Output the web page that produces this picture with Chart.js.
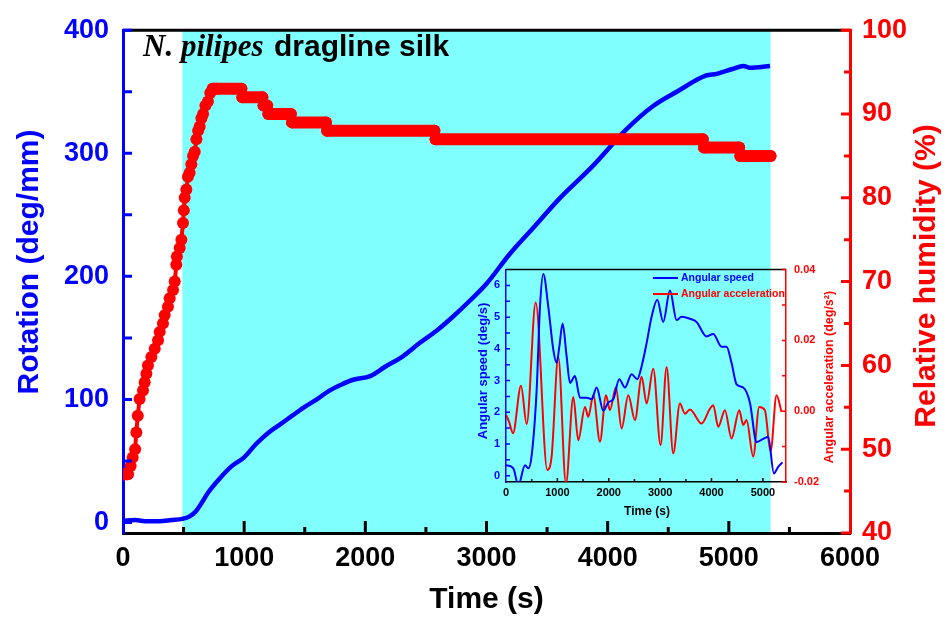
<!DOCTYPE html>
<html>
<head>
<meta charset="utf-8">
<script src="https://cdn.jsdelivr.net/npm/chart.js@4.4.1/dist/chart.umd.min.js"></script>
<style>
  html, body { margin: 0; padding: 0; background: #fff; }
  #wrap { position: relative; width: 946px; height: 619px; }
  #main { position: absolute; left: 0; top: 0; }
  #inset { position: absolute; left: 466px; top: 255px; }
</style>
</head>
<body>
<div id="wrap">
  <canvas id="main" width="946" height="619"></canvas>
  <canvas id="inset" width="400" height="275"></canvas>
</div>
<script>
// ---- main plot: rotation (left axis) and relative humidity (right axis) vs time
const rotTime = [0, 100, 200, 300, 400, 490, 550, 600, 650, 700, 800, 900, 1000, 1100, 1200, 1300, 1400, 1500, 1600, 1700, 1800, 1900, 2040, 2170, 2310, 2450, 2590, 2720, 2860, 3000, 3190, 3400, 3600, 3880, 4150, 4370, 4570, 4810, 4900, 5030, 5120, 5170, 5340];
const rotValue = [1.5, 2, 1, 1, 2, 3, 5, 9, 16, 24, 36, 46, 53, 64, 73, 80, 87, 94, 100, 107, 112, 116, 119, 127, 135, 146, 156, 167, 180, 194, 218, 241, 263, 290, 319, 338, 350, 363, 364.5, 368.5, 371, 369.5, 371];

const rhTime = [0, 14, 40, 63, 80, 100, 110, 122, 137, 165, 179, 193, 206, 234, 262, 289, 303, 330, 344, 371, 385, 413, 427, 440, 445, 468, 482, 495, 502, 509, 523, 536, 550, 564, 578, 592, 606, 620, 633, 647, 661, 680, 701, 720, 740, 771, 977, 985, 1150, 1160, 1190, 1200, 1385, 1395, 1675, 1685, 2570, 2580, 4785, 4795, 5085, 5095, 5344];
const rhValue = [47, 47, 47, 48, 49, 50, 52, 54, 56, 57, 58, 59, 60, 61, 62, 63, 64, 65, 66, 67, 68, 69, 70, 72, 73, 74, 75, 77, 78.5, 80, 81, 82.5, 83, 84, 85, 85.5, 87, 88, 88.5, 89.5, 90, 91, 91.5, 92.5, 93, 93, 93, 92, 92, 91, 91, 90, 90, 89, 89, 88, 88, 87, 87, 86, 86, 85, 85];

const bandStart = 490, bandEnd = 5345;   // cyan shaded interval (s)

const timeTicks = [0, 1000, 2000, 3000, 4000, 5000, 6000];
const timeMinor = [500, 1500, 2500, 3500, 4500, 5500];
const rotTicks = [0, 100, 200, 300, 400];
const rotMinor = [50, 150, 250, 350];
const rhTicks = [40, 50, 60, 70, 80, 90, 100];
const rhMinor = [45, 55, 65, 75, 85, 95];

// ---- inset: angular speed (left) and angular acceleration (right) vs time
const spdTime = [0, 143, 240, 370, 434, 500, 597, 661, 726, 824, 921, 986, 1038, 1102, 1180, 1245, 1342, 1440, 1569, 1667, 1764, 1894, 1991, 2088, 2205, 2315, 2445, 2555, 2640, 2737, 2834, 2944, 3061, 3191, 3320, 3418, 3580, 3709, 3904, 4034, 4196, 4293, 4390, 4488, 4617, 4747, 4877, 5006, 5104, 5214, 5298, 5383];
const spdValue = [0.33, 0.23, -0.3, 0.33, 0.23, 0.64, 2.72, 5.32, 6.36, 5.32, 3.97, 3.56, 4.07, 4.8, 3.76, 2.93, 3.14, 2.46, 2.46, 2.41, 2.78, 2.05, 2.31, 2.41, 3.04, 2.78, 3.2, 3.04, 3.45, 4.18, 5.01, 5.55, 4.85, 5.84, 4.91, 5.01, 4.95, 4.85, 4.39, 4.47, 4.07, 4.07, 3.56, 2.88, 2.78, 2.31, 1.06, 1.16, 1.22, 0.07, 0.28, 0.42];

const accTime = [0, 60, 136, 292, 402, 578, 804, 888, 1018, 1167, 1310, 1407, 1537, 1602, 1699, 1829, 1946, 2023, 2140, 2250, 2380, 2510, 2640, 2737, 2866, 3009, 3126, 3255, 3385, 3482, 3580, 3807, 3969, 4034, 4131, 4261, 4390, 4540, 4617, 4682, 4812, 4929, 5039, 5149, 5266, 5363];
const accValue = [-0.001, -0.003, -0.0062, 0.0072, -0.0036, 0.0307, -0.0166, -0.0128, 0.0153, -0.0205, 0.004, -0.0082, 0.0012, -0.0016, 0.0045, -0.0086, 0.0045, 0.0003, 0.0068, -0.0049, 0.0045, -0.0025, 0.0097, 0.0022, 0.012, -0.0096, 0.0125, -0.0119, 0.0022, -0.0007, 0.0005, -0.0035, 0.0007, 0.0017, -0.0044, 0.0003, -0.0077, 0.0003, -0.0039, -0.0025, -0.0128, 0.0012, 0.0003, -0.0114, 0.0045, -0.0002];

const insetTimeTicks = [0, 1000, 2000, 3000, 4000, 5000];
const insetTimeMinor = [500, 1500, 2500, 3500, 4500];
const spdTicks = [0, 1, 2, 3, 4, 5, 6];
const spdMinor = [0.5, 1.5, 2.5, 3.5, 4.5, 5.5];
const accTicks = [-0.02, 0, 0.02, 0.04];
const accMinor = [-0.01, 0.01, 0.03];

const FONT = "'Liberation Sans', Arial, sans-serif";
const BLUE = '#0000ff', RED = '#ff0000';

const pts = (xs, ys) => xs.map((x, i) => ({ x: x, y: ys[i] }));

function marks(chart, id, values, len, color, lw) {
    const s = chart.scales[id], a = chart.chartArea, c = chart.ctx;
    c.save();
    c.strokeStyle = color;
    c.lineWidth = lw;
    c.beginPath();
    values.forEach(v => {
        const p = s.getPixelForValue(v);
        if (s.isHorizontal()) { c.moveTo(p, a.bottom); c.lineTo(p, a.bottom - len); }
        else if (s.position === 'left') { c.moveTo(a.left, p); c.lineTo(a.left + len, p); }
        else { c.moveTo(a.right, p); c.lineTo(a.right - len, p); }
    });
    c.stroke();
    c.restore();
}

function label(c, text, x, y, font, color, rot) {
    c.save();
    c.translate(x, y);
    if (rot) c.rotate(rot);
    c.font = font;
    c.fillStyle = color;
    c.textAlign = 'center';
    c.textBaseline = 'middle';
    c.fillText(text, 0, 0);
    c.restore();
}

const mainDecor = {
    id: 'mainDecor',
    beforeDraw(chart) {
        const c = chart.ctx, a = chart.chartArea, x = chart.scales.x;
        const x0 = x.getPixelForValue(bandStart), x1 = x.getPixelForValue(bandEnd);
        c.save();
        c.fillStyle = '#80ffff';
        c.fillRect(x0, a.top, x1 - x0, a.bottom - a.top);
        c.restore();
    },
    afterDraw(chart) {
        const c = chart.ctx, a = chart.chartArea;
        c.save();
        c.strokeStyle = '#000';
        c.lineWidth = 3;
        c.beginPath();
        c.moveTo(a.left, a.top);
        c.lineTo(a.right - 8, a.top);
        c.stroke();
        c.strokeStyle = RED;
        c.beginPath();
        c.moveTo(a.right - 8, a.top);
        c.lineTo(a.right + 1.5, a.top);
        c.stroke();
        c.restore();

        marks(chart, 'x', timeTicks.slice(1, -1), 12, '#000', 3);
        marks(chart, 'x', timeMinor, 6, '#000', 3);
        marks(chart, 'y', rotTicks, 9, BLUE, 3);
        marks(chart, 'y', rotMinor, 9, BLUE, 3);
        marks(chart, 'y1', rhTicks, 9, RED, 3);
        marks(chart, 'y1', rhMinor, 6, RED, 3);

        label(c, 'Rotation (deg/mm)', 30, 262, 'bold 30px ' + FONT, BLUE, -Math.PI / 2);
        label(c, 'Relative humidity (%)', 927, 276, 'bold 30px ' + FONT, RED, -Math.PI / 2);
        label(c, 'Time (s)', (a.left + a.right) / 2, 600, 'bold 30px ' + FONT, '#000');

        // title: italic species name + bold text
        c.save();
        c.textBaseline = 'alphabetic';
        c.fillStyle = '#000';
        c.font = "italic bold 31px 'Liberation Serif', 'Times New Roman', serif";
        c.fillText('N. pilipes', 143, 56);
        c.font = 'bold 30px ' + FONT;
        c.fillText('dragline silk', 274, 56);
        c.restore();
    }
};

new Chart(document.getElementById('main'), {
    type: 'line',
    data: {
        datasets: [
            {
                label: 'Rotation',
                data: pts(rotTime, rotValue),
                yAxisID: 'y',
                borderColor: BLUE,
                borderWidth: 4.5,
                pointRadius: 0,
                cubicInterpolationMode: 'monotone',
                order: 2
            },
            {
                label: 'Relative humidity',
                data: pts(rhTime, rhValue),
                yAxisID: 'y1',
                borderColor: RED,
                backgroundColor: RED,
                pointBackgroundColor: RED,
                pointBorderWidth: 0,
                pointRadius: 6,
                borderWidth: 4,
                borderCapStyle: 'round',
                borderJoinStyle: 'round',
                tension: 0,
                segment: { borderWidth: ctx => ctx.p0.parsed.y === ctx.p1.parsed.y ? 12 : 4 },
                order: 1
            }
        ]
    },
    options: {
        responsive: false,
        animation: false,
        devicePixelRatio: 1,
        events: [],
        layout: { padding: { top: 23 } },
        plugins: { legend: { display: false }, tooltip: { enabled: false } },
        scales: {
            x: {
                type: 'linear', min: 0, max: 6000,
                afterBuildTicks: s => { s.ticks = timeTicks.map(v => ({ value: v })); },
                afterFit: s => { s.height = 86; },
                ticks: { callback: v => String(v), font: { family: FONT, size: 27, weight: 'bold' }, color: '#000', padding: 9, maxRotation: 0, autoSkip: false },
                grid: { display: false, drawTicks: false },
                border: { color: '#000', width: 3 }
            },
            y: {
                type: 'linear', position: 'left', min: -8.5, max: 400,
                afterBuildTicks: s => { s.ticks = rotTicks.map(v => ({ value: v })); },
                afterFit: s => { s.width = 123; },
                ticks: { callback: v => String(v), font: { family: FONT, size: 27, weight: 'bold' }, color: BLUE, padding: 14, autoSkip: false },
                grid: { display: false, drawTicks: false },
                border: { color: BLUE, width: 3 }
            },
            y1: {
                type: 'linear', position: 'right', min: 40, max: 100,
                afterBuildTicks: s => { s.ticks = rhTicks.map(v => ({ value: v })); },
                afterFit: s => { s.width = 96; },
                ticks: { callback: v => String(v), font: { family: FONT, size: 27, weight: 'bold' }, color: RED, padding: 12, autoSkip: false },
                grid: { display: false, drawTicks: false },
                border: { color: RED, width: 3 }
            }
        }
    },
    plugins: [mainDecor]
});

// ---- inset chart
const insetDecor = {
    id: 'insetDecor',
    afterDraw(chart) {
        const c = chart.ctx, a = chart.chartArea;
        c.save();
        c.strokeStyle = '#000';
        c.lineWidth = 1.5;
        c.beginPath();
        c.moveTo(a.left, a.top);
        c.lineTo(a.right, a.top);
        c.stroke();
        c.restore();

        marks(chart, 'x', insetTimeTicks.slice(1), 4, '#000', 1.5);
        marks(chart, 'x', insetTimeMinor, 3, '#000', 1.5);
        marks(chart, 'y', spdTicks, 4, BLUE, 1.5);
        marks(chart, 'y', spdMinor, 4, BLUE, 1.5);
        marks(chart, 'y1', accTicks, 4, RED, 1.5);
        marks(chart, 'y1', accMinor, 4, RED, 1.5);

        label(c, 'Angular speed (deg/s)', 17, 116, 'bold 13px ' + FONT, BLUE, -Math.PI / 2);
        label(c, 'Angular acceleration (deg/s\u00b2)', 364, 122, 'bold 12.5px ' + FONT, RED, -Math.PI / 2);
        label(c, 'Time (s)', 181, 257, 'bold 12px ' + FONT, '#000');

        // legend
        c.save();
        c.lineWidth = 2;
        c.strokeStyle = BLUE;
        c.beginPath(); c.moveTo(187, 23); c.lineTo(212, 23); c.stroke();
        c.strokeStyle = RED;
        c.beginPath(); c.moveTo(187, 39); c.lineTo(212, 39); c.stroke();
        c.font = 'bold 10.5px ' + FONT;
        c.textBaseline = 'middle';
        c.fillStyle = BLUE;
        c.fillText('Angular speed', 215, 23);
        c.fillStyle = RED;
        c.fillText('Angular acceleration', 215, 39);
        c.restore();
    }
};

new Chart(document.getElementById('inset'), {
    type: 'line',
    data: {
        datasets: [
            {
                label: 'Angular speed',
                data: pts(spdTime, spdValue),
                yAxisID: 'y',
                borderColor: BLUE,
                borderWidth: 2,
                pointRadius: 0,
                cubicInterpolationMode: 'monotone'
            },
            {
                label: 'Angular acceleration',
                data: pts(accTime, accValue),
                yAxisID: 'y1',
                borderColor: RED,
                borderWidth: 2,
                pointRadius: 0,
                cubicInterpolationMode: 'monotone'
            }
        ]
    },
    options: {
        responsive: false,
        animation: false,
        devicePixelRatio: 1,
        events: [],
        layout: { padding: { top: 12 } },
        plugins: { legend: { display: false }, tooltip: { enabled: false } },
        scales: {
            x: {
                type: 'linear', min: 0, max: 5450,
                afterBuildTicks: s => { s.ticks = insetTimeTicks.map(v => ({ value: v })); },
                afterFit: s => { s.height = 48; },
                ticks: { callback: v => String(v), font: { family: FONT, size: 11, weight: 'bold' }, color: '#000', padding: 4, maxRotation: 0, autoSkip: false },
                grid: { display: false, drawTicks: false },
                border: { color: '#000', width: 1.5 }
            },
            y: {
                type: 'linear', position: 'left', min: -0.2, max: 6.5,
                afterBuildTicks: s => { s.ticks = spdTicks.map(v => ({ value: v })); },
                afterFit: s => { s.width = 40; },
                ticks: { callback: v => String(v), font: { family: FONT, size: 11, weight: 'bold' }, color: BLUE, padding: 6, autoSkip: false },
                grid: { display: false, drawTicks: false },
                border: { color: BLUE, width: 1.5 }
            },
            y1: {
                type: 'linear', position: 'right', min: -0.02, max: 0.04,
                afterBuildTicks: s => { s.ticks = accTicks.map(v => ({ value: v })); },
                afterFit: s => { s.width = 80; },
                ticks: { callback: v => v.toFixed(2), font: { family: FONT, size: 11, weight: 'bold' }, color: RED, padding: 8, autoSkip: false },
                grid: { display: false, drawTicks: false },
                border: { color: RED, width: 1.5 }
            }
        }
    },
    plugins: [insetDecor]
});
</script>
</body>
</html>
